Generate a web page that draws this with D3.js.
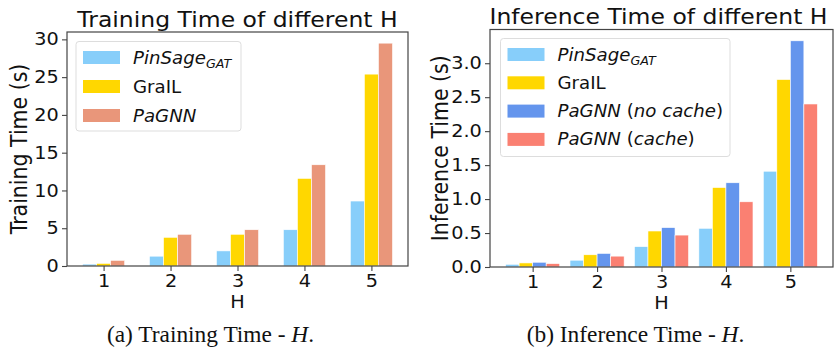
<!DOCTYPE html>
<html>
<head>
<meta charset="utf-8">
<script src="https://cdn.jsdelivr.net/npm/d3@7.9.0/dist/d3.min.js"></script>
<style>
  body { margin: 0; background: #fff; }
  svg { display: block; font-family: 'DejaVu Sans', sans-serif; }
</style>
</head>
<body>
<svg id="chart" width="834" height="350"></svg>
<script>
const hValues = [1, 2, 3, 4, 5];

// training time (s)
const trainPinSage = [0.25, 1.3, 2.0, 4.8, 8.6];
const trainGraIL = [0.35, 3.8, 4.2, 11.6, 25.4];
const trainPaGNN = [0.75, 4.2, 4.8, 13.4, 29.5];

// inference time (s)
const inferPinSage = [0.04, 0.1, 0.3, 0.57, 1.41];
const inferGraIL = [0.06, 0.18, 0.53, 1.17, 2.76];
const inferNoCache = [0.07, 0.2, 0.58, 1.24, 3.33];
const inferCache = [0.05, 0.16, 0.47, 0.96, 2.4];

const trainTicks = [0, 5, 10, 15, 20, 25, 30];
const inferTicks = [0, 0.5, 1.0, 1.5, 2.0, 2.5, 3.0];

const svg = d3.select('#chart');
const sx = 1.1; // the figure is a bit wider than tall in the text

// legend label builders (italic parts as tspans)
const labelPinSage = (t) => {
  t.append('tspan').attr('font-style', 'italic').text('PinSage');
  t.append('tspan').attr('font-style', 'italic').attr('font-size', '0.7em').attr('dy', 4).text('GAT');
};
const labelGraIL = (t) => t.append('tspan').text('GraIL');
const labelPaGNN = (t) => t.append('tspan').attr('font-style', 'italic').text('PaGNN');
const labelNoCache = (t) => {
  t.append('tspan').attr('font-style', 'italic').text('PaGNN');
  t.append('tspan').text(' (');
  t.append('tspan').attr('font-style', 'italic').text('no cache');
  t.append('tspan').text(')');
};
const labelCache = (t) => {
  t.append('tspan').attr('font-style', 'italic').text('PaGNN');
  t.append('tspan').text(' (');
  t.append('tspan').attr('font-style', 'italic').text('cache');
  t.append('tspan').text(')');
};

function drawPanel(cfg) {
  const g = svg.append('g');
  const { left, right, top, bottom } = cfg.box;
  const n = cfg.series.length;
  const w = 0.21;
  const lo = 1 - (n / 2) * w, hi = 5 + (n / 2) * w;
  const pad = (hi - lo) * 0.05;

  const x = d3.scaleLinear().domain([lo - pad, hi + pad]).range([left, right]);
  const y = d3.scaleLinear().domain([0, cfg.ymax]).range([bottom, top]);

  cfg.series.forEach((s, si) => {
    const off = (si - (n - 1) / 2) * w;
    g.selectAll(null)
      .data(s.values)
      .join('rect')
      .attr('x', (d, i) => x(hValues[i] + off - w / 2))
      .attr('width', x(w) - x(0))
      .attr('y', (d) => y(d))
      .attr('height', (d) => y(0) - y(d))
      .attr('fill', s.color)
      .attr('stroke', '#fff')
      .attr('stroke-width', 0.6);
  });

  // frame
  g.append('rect')
    .attr('x', left).attr('y', top)
    .attr('width', right - left).attr('height', bottom - top)
    .attr('fill', 'none').attr('stroke', '#444').attr('stroke-width', 1.2);

  const xAxis = g.append('g').attr('transform', `translate(0,${bottom})`)
    .call(d3.axisBottom(x).tickValues(hValues).tickFormat(d3.format('d')).tickSize(5).tickPadding(3.5));
  const yAxis = g.append('g').attr('transform', `translate(${left},0)`)
    .call(d3.axisLeft(y).tickValues(cfg.ticks).tickFormat(cfg.fmt).tickSize(5).tickPadding(2.5));
  [xAxis, yAxis].forEach((a) => {
    a.select('.domain').remove();
    a.selectAll('line').attr('stroke', '#444').attr('stroke-width', 1.1);
    a.selectAll('text').attr('font-size', 17.5).attr('fill', '#111')
      .attr('font-family', "'DejaVu Sans', sans-serif")
      .attr('transform', `scale(${sx},1)`);
  });

  g.append('text')
    .attr('transform', `translate(${(left + right) / 2 - cfg.titleShift},${cfg.titleY}) scale(1.12,1)`)
    .attr('text-anchor', 'middle').attr('font-size', 21).attr('fill', '#111')
    .text(cfg.title);

  g.append('text')
    .attr('transform', `translate(${x(3)},${bottom + 42}) scale(${sx},1)`)
    .attr('text-anchor', 'middle').attr('font-size', 17.5).attr('fill', '#111')
    .text('H');

  g.append('text')
    .attr('transform', `translate(${cfg.ylabelX},${(top + bottom) / 2}) scale(${sx},1) rotate(-90)`)
    .attr('text-anchor', 'middle').attr('font-size', 20.5).attr('fill', '#111')
    .text(cfg.ylabel);

  // legend
  const L = cfg.legend;
  g.append('rect')
    .attr('x', L.x).attr('y', L.y).attr('width', L.w).attr('height', L.h)
    .attr('rx', 3).attr('fill', '#fff').attr('fill-opacity', 0.8)
    .attr('stroke', '#ddd').attr('stroke-width', 1);
  cfg.series.forEach((s, si) => {
    const cy = L.y + 16 + si * L.step;
    g.append('rect')
      .attr('x', L.x + 7).attr('y', cy - 6.5)
      .attr('width', 37).attr('height', 13).attr('fill', s.color);
    const t = g.append('text')
      .attr('transform', `translate(${L.x + 57},${cy + 6}) scale(1.07,1)`)
      .attr('font-size', 17).attr('fill', '#111');
    s.label(t);
  });

  // caption
  svg.append('text')
    .attr('transform', `translate(${cfg.captionX},341.5) scale(1.04,1)`)
    .attr('text-anchor', 'middle')
    .attr('font-family', "'Liberation Serif', serif").attr('font-size', 22.5).attr('fill', '#111')
    .call((t) => {
      t.append('tspan').text(cfg.caption);
      t.append('tspan').attr('font-style', 'italic').text('H');
      t.append('tspan').text('.');
    });
}

drawPanel({
  box: { left: 67, right: 408, top: 32, bottom: 266 },
  ymax: 30.975,
  ticks: trainTicks,
  fmt: d3.format('d'),
  title: 'Training Time of different H',
  titleY: 26.5,
  titleShift: 0,
  ylabel: 'Training Time (s)',
  ylabelX: 27,
  caption: '(a) Training Time - ',
  captionX: 210.5,
  legend: { x: 76, y: 41.5, w: 165, h: 89.5, step: 29 },
  series: [
    { values: trainPinSage, color: '#87CEFA', label: labelPinSage },
    { values: trainGraIL, color: '#FFD700', label: labelGraIL },
    { values: trainPaGNN, color: '#E9967A', label: labelPaGNN }
  ]
});

drawPanel({
  box: { left: 490, right: 833, top: 29.5, bottom: 267 },
  ymax: 3.4965,
  ticks: inferTicks,
  fmt: d3.format('.1f'),
  title: 'Inference Time of different H',
  titleY: 24,
  titleShift: 3,
  ylabel: 'Inference Time (s)',
  ylabelX: 448,
  caption: '(b) Inference Time - ',
  captionX: 635.5,
  legend: { x: 500.5, y: 38.5, w: 229.5, h: 118, step: 28.3 },
  series: [
    { values: inferPinSage, color: '#87CEFA', label: labelPinSage },
    { values: inferGraIL, color: '#FFD700', label: labelGraIL },
    { values: inferNoCache, color: '#6495ED', label: labelNoCache },
    { values: inferCache, color: '#FA8072', label: labelCache }
  ]
});
</script>
</body>
</html>
